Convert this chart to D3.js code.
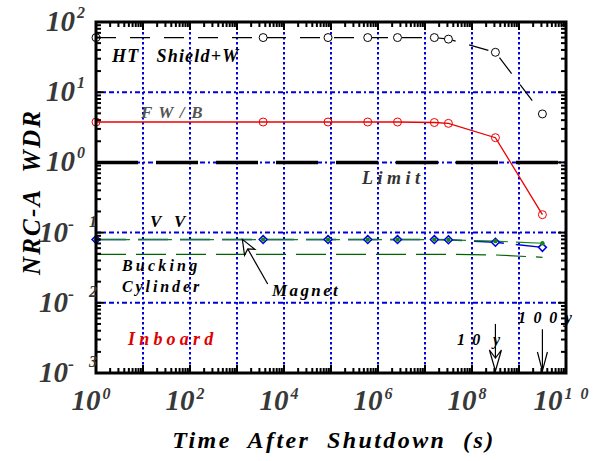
<!DOCTYPE html>
<html>
<head>
<meta charset="utf-8">
<script src="https://cdn.jsdelivr.net/npm/d3@7/dist/d3.min.js"></script>
<style>
  body { margin: 0; background: #fff; }
  svg { display: block; }
  text { font-family: "Liberation Serif", "Times New Roman", serif; font-weight: bold; font-style: italic; }
</style>
</head>
<body>
<svg width="593" height="461"></svg>
<script>
// time after shutdown (s): 1 s, 1 h, 1 d, 1 wk, 1 mo, 6 mo, 1 y, 10 y, 100 y
const times = [1, 3600, 86400, 604800, 2.6e6, 1.58e7, 3.15e7, 3.15e8, 3.15e9];
const htShield = [60, 60, 60, 60, 60, 60, 57, 37, 4.9];
const fwb = [3.76, 3.76, 3.76, 3.76, 3.76, 3.7, 3.6, 2.25, 0.18];
const vv = [0.0795, 0.0795, 0.0795, 0.0795, 0.0795, 0.0795, 0.0790, 0.0728, 0.0616];
const magnet = [0.0795, 0.0795, 0.0795, 0.0795, 0.0795, 0.0795, 0.0790, 0.0755, 0.0705];
const bucking = [0.049, 0.049, 0.049, 0.049, 0.049, 0.049, 0.049, 0.048, 0.0445];
const limit = 1;

const xTickExps = [0, 2, 4, 6, 8, 10];
const yTickExps = [2, 1, 0, -1, -2, -3];

const svg = d3.select("svg");
const margin = { left: 96, right: 27, top: 22, bottom: 88 };
const W = 593, H = 461;

const x = d3.scaleLog().domain([1, 1e10]).range([margin.left, W - margin.right]);
const y = d3.scaleLog().domain([1e-3, 1e2]).range([H - margin.bottom, margin.top]);
const [x0, x1] = x.range();
const [y0, y1] = y.range(); // y0 bottom, y1 top

// grid
const grid = svg.append("g").attr("stroke", "#0000dd").attr("stroke-width", 2);
d3.range(1, 11).forEach(e => {
  grid.append("line")
    .attr("x1", x(10 ** e)).attr("x2", x(10 ** e))
    .attr("y1", y1).attr("y2", y0)
    .attr("stroke-dasharray", "2.5,2.5");
});
[1, 0, -1, -2].forEach(e => {
  grid.append("line")
    .attr("x1", x0).attr("x2", x1)
    .attr("y1", y(10 ** e)).attr("y2", y(10 ** e))
    .attr("stroke-dasharray", "5,3,2,3");
});

// limit line
svg.append("line")
  .attr("x1", x0).attr("x2", x1)
  .attr("y1", y(limit)).attr("y2", y(limit))
  .attr("stroke", "#000").attr("stroke-width", 3.5)
  .attr("stroke-dasharray", "42,18");

// series
const line = vals => d3.line().x((d, i) => x(times[i])).y(d => y(d))(vals);

svg.append("path").attr("d", line(bucking)).attr("fill", "none")
  .attr("stroke", "#006400").attr("stroke-width", 1.2).attr("stroke-dasharray", "30,10");
svg.append("path").attr("d", line(vv)).attr("fill", "none")
  .attr("stroke", "#0000dd").attr("stroke-width", 1.5).attr("stroke-dasharray", "30,12");
svg.append("path").attr("d", line(magnet)).attr("fill", "none")
  .attr("stroke", "#118811").attr("stroke-width", 1.2).attr("stroke-dasharray", "34,8");
svg.append("path").attr("d", line(htShield)).attr("fill", "none")
  .attr("stroke", "#000").attr("stroke-width", 1.2).attr("stroke-dasharray", "20,14");
svg.append("path").attr("d", line(fwb)).attr("fill", "none")
  .attr("stroke", "#ee0000").attr("stroke-width", 1.3);

// markers
svg.append("g").selectAll("circle").data(htShield).join("circle")
  .attr("cx", (d, i) => x(times[i])).attr("cy", d => y(d)).attr("r", 4)
  .attr("fill", "#fff").attr("stroke", "#000").attr("stroke-width", 1);
svg.append("g").selectAll("circle").data(fwb).join("circle")
  .attr("cx", (d, i) => x(times[i])).attr("cy", d => y(d)).attr("r", 4)
  .attr("fill", "none").attr("stroke", "#ee0000").attr("stroke-width", 1);
svg.append("g").selectAll("path").data(vv).join("path")
  .attr("d", d3.symbol(d3.symbolDiamond2, 40))
  .attr("transform", (d, i) => `translate(${x(times[i])},${y(d)})`)
  .attr("fill", "#fff").attr("stroke", "#0000dd").attr("stroke-width", 1.5);
svg.append("g").selectAll("circle").data(magnet).join("circle")
  .attr("cx", (d, i) => x(times[i])).attr("cy", d => y(d)).attr("r", 2.2)
  .attr("fill", "#118811");

// frame and ticks
const ticks = svg.append("g").attr("stroke", "#000").attr("stroke-width", 2);
d3.range(0, 10).forEach(e => {
  d3.range(1, 10).forEach(m => {
    const xv = x(m * 10 ** e), len = m === 1 ? 8 : 5;
    ticks.append("line").attr("x1", xv).attr("x2", xv).attr("y1", y0).attr("y2", y0 - len);
    ticks.append("line").attr("x1", xv).attr("x2", xv).attr("y1", y1).attr("y2", y1 + len);
  });
});
d3.range(-3, 2).forEach(e => {
  d3.range(1, 10).forEach(m => {
    const yv = y(m * 10 ** e), len = m === 1 ? 8 : 5;
    ticks.append("line").attr("x1", x0).attr("x2", x0 + len).attr("y1", yv).attr("y2", yv);
    ticks.append("line").attr("x1", x1).attr("x2", x1 - len).attr("y1", yv).attr("y2", yv);
  });
});
svg.append("rect")
  .attr("x", x0).attr("y", y1).attr("width", x1 - x0).attr("height", y0 - y1)
  .attr("fill", "none").attr("stroke", "#000").attr("stroke-width", 3);

// tick labels
const tickFill = "#383838";
xTickExps.forEach(e => {
  const t = svg.append("text")
    .attr("x", x(10 ** e) - 5).attr("y", y0 + 37)
    .attr("text-anchor", "middle").attr("font-size", 29).attr("fill", tickFill);
  t.append("tspan").text("10");
  t.append("tspan").attr("dx", 2).attr("dy", -11).attr("font-size", 16)
    .attr("xml:space", "preserve").text(e === 10 ? "1  0" : String(e));
});
yTickExps.forEach(e => {
  const yy = y(10 ** e);
  if (e >= 0) {
    const t = svg.append("text").attr("x", 46).attr("y", yy + 9)
      .attr("font-size", 29).attr("fill", tickFill);
    t.append("tspan").text("10");
    t.append("tspan").attr("dx", 2).attr("dy", -13).attr("font-size", 16).text(String(e));
  } else {
    const t = svg.append("text").attr("x", 39).attr("y", yy + 9)
      .attr("font-size", 29).attr("fill", tickFill);
    t.append("tspan").text("10");
    t.append("tspan").attr("dy", -12).attr("font-size", 18).text("-");
    svg.append("text").attr("x", 89).attr("y", yy - 6)
      .attr("font-size", 16).attr("fill", tickFill).text(String(-e));
  }
});

// axis titles
svg.append("text").attr("x", 334).attr("y", 448).attr("text-anchor", "middle")
  .attr("font-size", 24).attr("letter-spacing", 2.4).attr("fill", "#000")
  .attr("xml:space", "preserve").text("Time  After  Shutdown  (s)");
svg.append("text").attr("transform", "translate(40,192) rotate(-90)")
  .attr("text-anchor", "middle").attr("font-size", 25).attr("letter-spacing", 2.2)
  .attr("fill", "#000").attr("xml:space", "preserve").text("NRC-A  WDR");

// annotations
const note = (txt, xp, yp, opts = {}) => svg.append("text")
  .attr("x", xp).attr("y", yp).attr("font-size", opts.size || 16)
  .attr("letter-spacing", opts.ls || 0).attr("fill", opts.fill || "#000")
  .attr("xml:space", "preserve").text(txt);

note("HT   Shield+W", 112, 62, { size: 18, ls: 1.2 });
note("F W / B", 141, 118, { size: 17, ls: 1.2, fill: "#555" });
note("Limit", 362, 184, { size: 18, ls: 4.5, fill: "#333" });
note("V  V", 150, 227, { size: 17, ls: 1.5 });
note("Bucking", 122, 271, { size: 16, ls: 3.2 });
note("Cylinder", 122, 292, { size: 16, ls: 2.9 });
note("Magnet", 272, 296, { size: 17, ls: 2.4 });
note("Inboard", 128, 345, { size: 18, ls: 4.2, fill: "#e00000" });
note("1 0  y", 457, 345, { size: 16, ls: 1.6 });
note("1 0 0 y", 518, 323, { size: 16, ls: 1.8 });

// Magnet pointer (in data coordinates)
const tip = [x(1300), y(0.08)];
const tail = [x(4500), y(0.0185)];
const ang = Math.atan2(tail[1] - tip[1], tail[0] - tip[0]);
const pt = (d, a) => [tip[0] + d * Math.cos(ang + a), tip[1] + d * Math.sin(ang + a)];
const w1 = pt(16, 0.38), w2 = pt(16, -0.38), notch = pt(11, 0);
svg.append("path")
  .attr("d", `M${tip}L${w1}L${notch}L${w2}Z`)
  .attr("fill", "#fff").attr("stroke", "#000").attr("stroke-width", 1.2);
svg.append("line").attr("x1", notch[0]).attr("y1", notch[1])
  .attr("x2", tail[0]).attr("y2", tail[1]).attr("stroke", "#000").attr("stroke-width", 1.2);

// 10 y and 100 y arrows
const ax10 = x(3.15e8), ax100 = x(3.15e9);
svg.append("line").attr("x1", ax10).attr("x2", ax10).attr("y1", y(0.005)).attr("y2", y0 - 2)
  .attr("stroke", "#000").attr("stroke-width", 1.2);
svg.append("path")
  .attr("d", `M${ax10 - 6},${y0 - 23}L${ax10},${y0 - 2}L${ax10 + 6},${y0 - 23}L${ax10},${y0 - 15}Z`)
  .attr("fill", "#fff").attr("stroke", "#000").attr("stroke-width", 1.2);
svg.append("line").attr("x1", ax100).attr("x2", ax100).attr("y1", y(0.0042)).attr("y2", y0 - 2)
  .attr("stroke", "#000").attr("stroke-width", 1.2);
svg.append("path")
  .attr("d", `M${ax100 - 5},${y0 - 21}L${ax100},${y0 - 2}L${ax100 + 5},${y0 - 21}`)
  .attr("fill", "none").attr("stroke", "#000").attr("stroke-width", 1.2);
</script>
</body>
</html>
